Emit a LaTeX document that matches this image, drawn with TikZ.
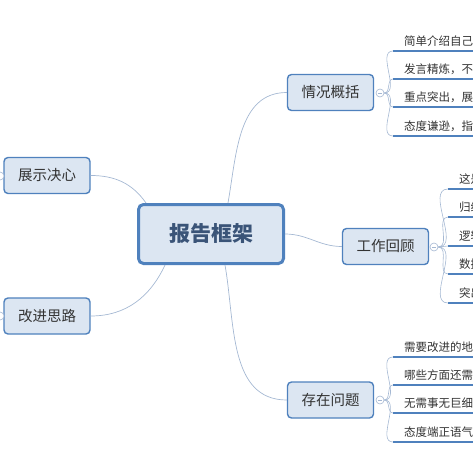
\documentclass[tikz,border=0pt]{standalone}
\usepackage{fontspec}
\setmainfont{Noto Sans CJK SC}
\definecolor{mapline}{HTML}{4F81BD}
\definecolor{mapfill}{HTML}{DCE6F2}
\definecolor{maptext}{HTML}{333333}
\definecolor{maproot}{HTML}{3A5478}
\definecolor{maptwig}{HTML}{A5B8D3}

\begin{document}
\begin{tikzpicture}[x=1pt, y=-1pt,
    root/.style={draw=mapline, fill=mapfill, rounded corners=5pt,
      line width=3pt, minimum width=145pt, minimum height=59pt,
      font=\fontsize{21}{24}\selectfont\bfseries, text=maproot},
    topic/.style={draw=mapline, fill=mapfill, rounded corners=4pt,
      line width=1.4pt, minimum width=86pt, minimum height=36pt,
      font=\fontsize{14.5}{17}\selectfont, text=maptext},
    leaf/.style={anchor=south west, inner xsep=11pt, inner ysep=4pt,
      text width=90pt, align=left, font=\fontsize{11.5}{14}\selectfont,
      text=maptext},
    uline/.style={draw=mapline, line width=2pt},
    branch/.style={draw=maptwig, line width=0.7pt},
    twig/.style={draw=maptwig, line width=0.6pt},
    knob/.style={circle, draw=maptwig, fill=white, line width=0.6pt,
      inner sep=0pt, minimum size=8pt},
  ]
  \useasboundingbox (0,0) rectangle (473,473);
  \clip (0,0) rectangle (473,473);

  % centre and topics
  \node[root] (core) at (211,234) {报告框架};
  \node[topic] (t1) at (330.5,92.5)  {情况概括};
  \node[topic] (t2) at (385.5,246.5) {工作回顾};
  \node[topic] (t3) at (330.5,400)   {存在问题};
  \node[topic] (t4) at (47,175.5)    {展示决心};
  \node[topic] (t5) at (47,316)      {改进思路};

  \draw[branch] ([xshift=17pt]core.north) to[out=80, in=180] (t1.west);
  \draw[branch] (core.east) to[out=0, in=180] (t2.west);
  \draw[branch] ([xshift=14pt]core.south) to[out=-80, in=180] (t3.west);
  \draw[branch] (t4.east) to[out=0, in=125] ([xshift=-65pt]core.north);
  \draw[branch] (t5.east) to[out=0, in=-115] ([xshift=-46pt]core.south);

  % collapse knobs
  \node[knob] (k1) at (380,93)  {};
  \node[knob] (k2) at (434,247) {};
  \node[knob] (k3) at (380,400) {};
  \node[knob] (k4) at (0,176)   {};
  \node[knob] (k5) at (0,316)   {};
  \foreach \k in {k1,k2,k3}
    \draw[twig] ([xshift=-2pt]\k.center) -- ([xshift=2pt]\k.center);

  % leaves of t1
  \node[leaf] (a1) at (393,51)  {简单介绍自己情况};
  \node[leaf] (a2) at (393,79)  {发言精炼，不要冗长};
  \node[leaf] (a3) at (393,107) {重点突出，展示成果};
  \node[leaf] (a4) at (393,136) {态度谦逊，指出不足};
  \foreach \n in {a1,a2,a3,a4} {
    \draw[uline] (\n.south west) -- (\n.south east);
    \draw[twig] (k1.east) to[out=0, in=180] (\n.south west);
  }

  % leaves of t2
  \node[leaf] (b1) at (448,189) {这是什么};
  \node[leaf] (b2) at (448,217) {归纳总结};
  \node[leaf] (b3) at (448,246) {逻辑清晰};
  \node[leaf] (b4) at (448,274) {数据说话};
  \node[leaf] (b5) at (448,303) {突出亮点};
  \foreach \n in {b1,b2,b3,b4,b5} {
    \draw[uline] (\n.south west) -- (\n.south east);
    \draw[twig] (k2.east) to[out=0, in=180] (\n.south west);
  }

  % leaves of t3
  \node[leaf] (c1) at (393,357) {需要改进的地方};
  \node[leaf] (c2) at (393,385) {哪些方面还需加强};
  \node[leaf] (c3) at (393,413) {无需事无巨细};
  \node[leaf] (c4) at (393,442) {态度端正语气诚恳};
  \foreach \n in {c1,c2,c3,c4} {
    \draw[uline] (\n.south west) -- (\n.south east);
    \draw[twig] (k3.east) to[out=0, in=180] (\n.south west);
  }
\end{tikzpicture}
\end{document}
